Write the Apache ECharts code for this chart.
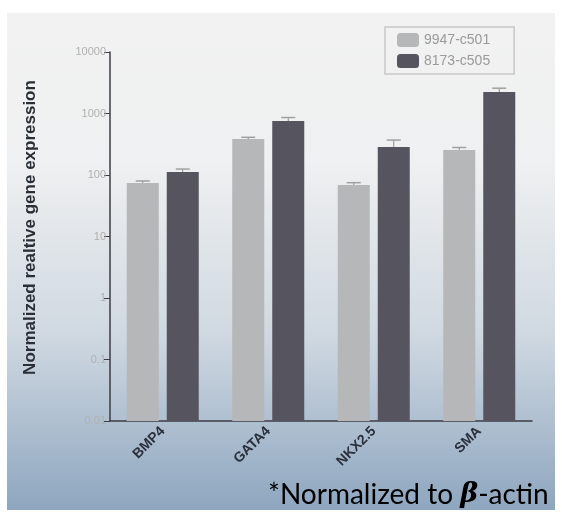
<!DOCTYPE html>
<html><head><meta charset="utf-8">
<script src="https://cdn.jsdelivr.net/npm/echarts@6/dist/echarts.min.js"></script>
<style>html,body{margin:0;padding:0;background:#fff}#c{width:562px;height:518px}</style>
</head><body><div id="c"></div>
<script>
var categories = ['BMP4', 'GATA4', 'NKX2.5', 'SMA'];
var seriesNames = ['9947-c501', '8173-c505'];
var values9947 = [74, 385, 69, 256];
var values8173 = [112, 755, 285, 2240];
var err9947 = [80, 410, 75, 280];
var err8173 = [125, 860, 370, 2580];
var tickLabels = ['0.01', '0.1', '1', '10', '100', '1000', '10000'];

var chart = echarts.init(document.getElementById('c'));

function errSeries(name, vals, errs, offset) {
  return {
    type: 'custom', name: name + ' err', z: 5, silent: true,
    data: categories.map(function (c, i) { return [i, vals[i], errs[i]]; }),
    renderItem: function (params, api) {
      var top = api.coord([api.value(0), api.value(1)]);
      var cap = api.coord([api.value(0), api.value(2)]);
      var x = top[0] + offset;
      return { type: 'group', children: [
        { type: 'line', shape: { x1: x, y1: top[1], x2: x, y2: cap[1] }, style: { stroke: '#8a8a8a', lineWidth: 1 } },
        { type: 'line', shape: { x1: x - 7, y1: cap[1], x2: x + 7, y2: cap[1] }, style: { stroke: '#a0a0a0', lineWidth: 1.5 } }
      ]};
    }
  };
}

chart.setOption({
  animation: false,
  graphic: [
    { type: 'rect', z: -10, silent: true, shape: { x: 7, y: 13, width: 548, height: 497 },
      style: { fill: { type: 'linear', x: 0, y: 0, x2: 0, y2: 1, colorStops: [
        { offset: 0, color: '#f2f2f2' }, { offset: 0.3, color: '#eff0f1' },
        { offset: 0.65, color: '#cfd8e1' }, { offset: 1, color: '#8ea6bf' }] } } },
    { type: 'text', left: 268, top: 481, z: 10,
      style: { text: '{a|*Normalized to }{b|β}{a|-actin}', rich: {
        a: { fontSize: 28, fontFamily: 'Lato', color: '#1c2a3e' },
        b: { fontSize: 27, fontFamily: 'DejaVu Serif', fontWeight: 'bold', fontStyle: 'italic', color: '#1c2a3e' } } } }
  ],
  legend: {
    orient: 'vertical', left: 385, top: 27, itemWidth: 22, itemHeight: 14, itemGap: 7,
    padding: [6, 24, 6, 12], borderColor: '#c8c8c8', borderWidth: 1.5,
    data: seriesNames,
    textStyle: { color: '#9a9a9a', fontSize: 14, fontFamily: 'Liberation Sans' }
  },
  grid: { left: 110, right: 30, top: 52, bottom: 97 },
  xAxis: {
    type: 'category', data: categories,
    axisLine: { lineStyle: { color: '#3c3c44', width: 1.5 } },
    axisTick: { alignWithLabel: true, length: 5, lineStyle: { color: '#3c3c44' } },
    axisLabel: { rotate: 45, color: '#2a303c', fontSize: 14, fontWeight: 'bold', fontFamily: 'Liberation Sans', margin: 8 }
  },
  yAxis: {
    type: 'log', logBase: 10, min: 0.01, max: 10000, startValue: 0.01,
    name: 'Normalized realtive gene expression', nameLocation: 'middle', nameGap: 71, nameRotate: 90,
    nameTextStyle: { color: '#2a2e36', fontSize: 17, fontWeight: 'bold', fontFamily: 'Liberation Sans', padding: [0, 0, 0, 18] },
    axisLine: { show: true, lineStyle: { color: '#3c3c44', width: 1.5 } },
    axisTick: { show: true, length: 6, lineStyle: { color: '#3c3c44' } },
    splitLine: { show: false },
    axisLabel: { color: '#b0b0b0', fontSize: 11, fontFamily: 'Liberation Sans', margin: 4,
      formatter: function (v) { var i = Math.round(Math.log10(v)) + 2; return tickLabels[i] || ''; } }
  },
  series: [
    { type: 'bar', name: seriesNames[0], data: values9947, barWidth: 32, barGap: '25%',
      itemStyle: { color: '#b5b7b9' } },
    { type: 'bar', name: seriesNames[1], data: values8173, barWidth: 32,
      itemStyle: { color: '#56555f' } },
    errSeries(seriesNames[0], values9947, err9947, -20),
    errSeries(seriesNames[1], values8173, err8173, 20)
  ]
});
</script></body></html>
